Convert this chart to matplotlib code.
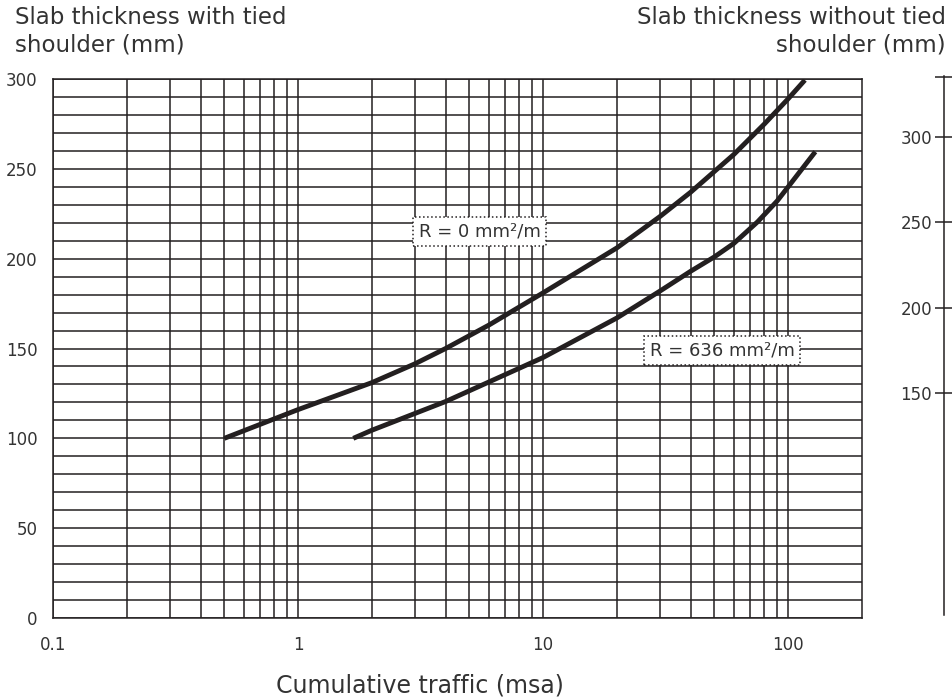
import numpy as np
import matplotlib
matplotlib.use("Agg")
import matplotlib.pyplot as plt
from matplotlib.ticker import FixedLocator, NullFormatter

# curve R = 0 mm2/m (upper)
traffic_r0 = [0.5, 1, 2, 3, 4, 6, 10, 20, 30, 40, 60, 80, 100, 117]
thick_r0 = [100, 116, 131, 141.5, 150, 163, 181, 206, 223.5, 237, 258, 275, 289, 299.4]

# curve R = 636 mm2/m (lower)
traffic_r636 = [1.68, 2, 4, 10, 20, 30, 40, 50, 60, 75, 90, 100, 129]
thick_r636 = [100, 104.5, 120.5, 145, 167, 182, 193, 201, 208.5, 220.5, 232, 240, 259.5]

x_ticks = [0.1, 1, 10, 100]
x_ticklabels = ["0.1", "1", "10", "100"]
y_ticks = [0, 50, 100, 150, 200, 250, 300]
right_ticks = [150, 200, 250, 300, 335]
right_ticklabels = ["150", "200", "250", "300", ""]

ink = "#231f20"
txt = "#333333"
fig = plt.figure(figsize=(9.53, 6.97), dpi=100)
ax = fig.add_axes([0.0556, 0.1133, 0.8489, 0.7734])

ax.set_xscale("log")
ax.set_xlim(0.1, 200)
ax.set_ylim(0, 300)

ax.xaxis.set_major_locator(FixedLocator(x_ticks))
ax.set_xticklabels(x_ticklabels)
minors = [m * d for d in [0.1, 1, 10] for m in range(2, 10)]
ax.xaxis.set_minor_locator(FixedLocator(minors))
ax.xaxis.set_minor_formatter(NullFormatter())
ax.yaxis.set_major_locator(FixedLocator(y_ticks))
ax.yaxis.set_minor_locator(FixedLocator(list(range(0, 301, 10))))

ax.grid(True, which="both", color=ink, lw=1.1)
ax.set_axisbelow(True)
for s in ax.spines.values():
    s.set_color(ink)
    s.set_linewidth(1.1)
ax.tick_params(which="both", length=0, labelsize=12, colors=txt)
ax.tick_params(axis="y", pad=11)
ax.tick_params(axis="x", pad=13)

ax.plot(traffic_r0, thick_r0, color=ink, lw=3.5, solid_capstyle="butt",
        solid_joinstyle="round", zorder=3)
ax.plot(traffic_r636, thick_r636, color=ink, lw=3.5, solid_capstyle="butt",
        solid_joinstyle="round", zorder=3)

box = dict(boxstyle="square,pad=0.3", fc="white", ec=ink, ls=":", lw=1.1)
ax.text(5.5, 215, "R = 0 mm²/m", ha="center", va="center", fontsize=13,
        color=txt, bbox=box, zorder=4)
ax.text(53.8, 149, "R = 636 mm²/m", ha="center", va="center", fontsize=13,
        color=txt, bbox=box, zorder=4)

fig.text(420 / 953, 1 - 685 / 697, "Cumulative traffic (msa)", ha="center",
         va="center", fontsize=17, color=txt)

# right-hand scale
ax2 = fig.add_axes([0.9906, 0.1176, 0.0001, 0.7738])
ax2.set_ylim(20.6, 335.6)
ax2.set_xticks([])
for k in ["top", "right", "bottom"]:
    ax2.spines[k].set_visible(False)
ax2.spines["left"].set_color(ink)
ax2.spines["left"].set_linewidth(1.1)
ax2.set_yticks(right_ticks)
ax2.set_yticklabels(right_ticklabels)
ax2.tick_params(axis="y", direction="inout", length=13, width=1.1, colors=ink,
                labelcolor=txt, labelsize=12, pad=2)

fig.text(15 / 953, 1 - 6 / 697, "Slab thickness with tied\nshoulder (mm)",
         ha="left", va="top", fontsize=16.5, color=txt, linespacing=1.25)
fig.text(946 / 953, 1 - 6 / 697, "Slab thickness without tied\nshoulder (mm)",
         ha="right", va="top", fontsize=16.5, color=txt, linespacing=1.25,
         multialignment="right")

fig.savefig("out.png", dpi=100)
